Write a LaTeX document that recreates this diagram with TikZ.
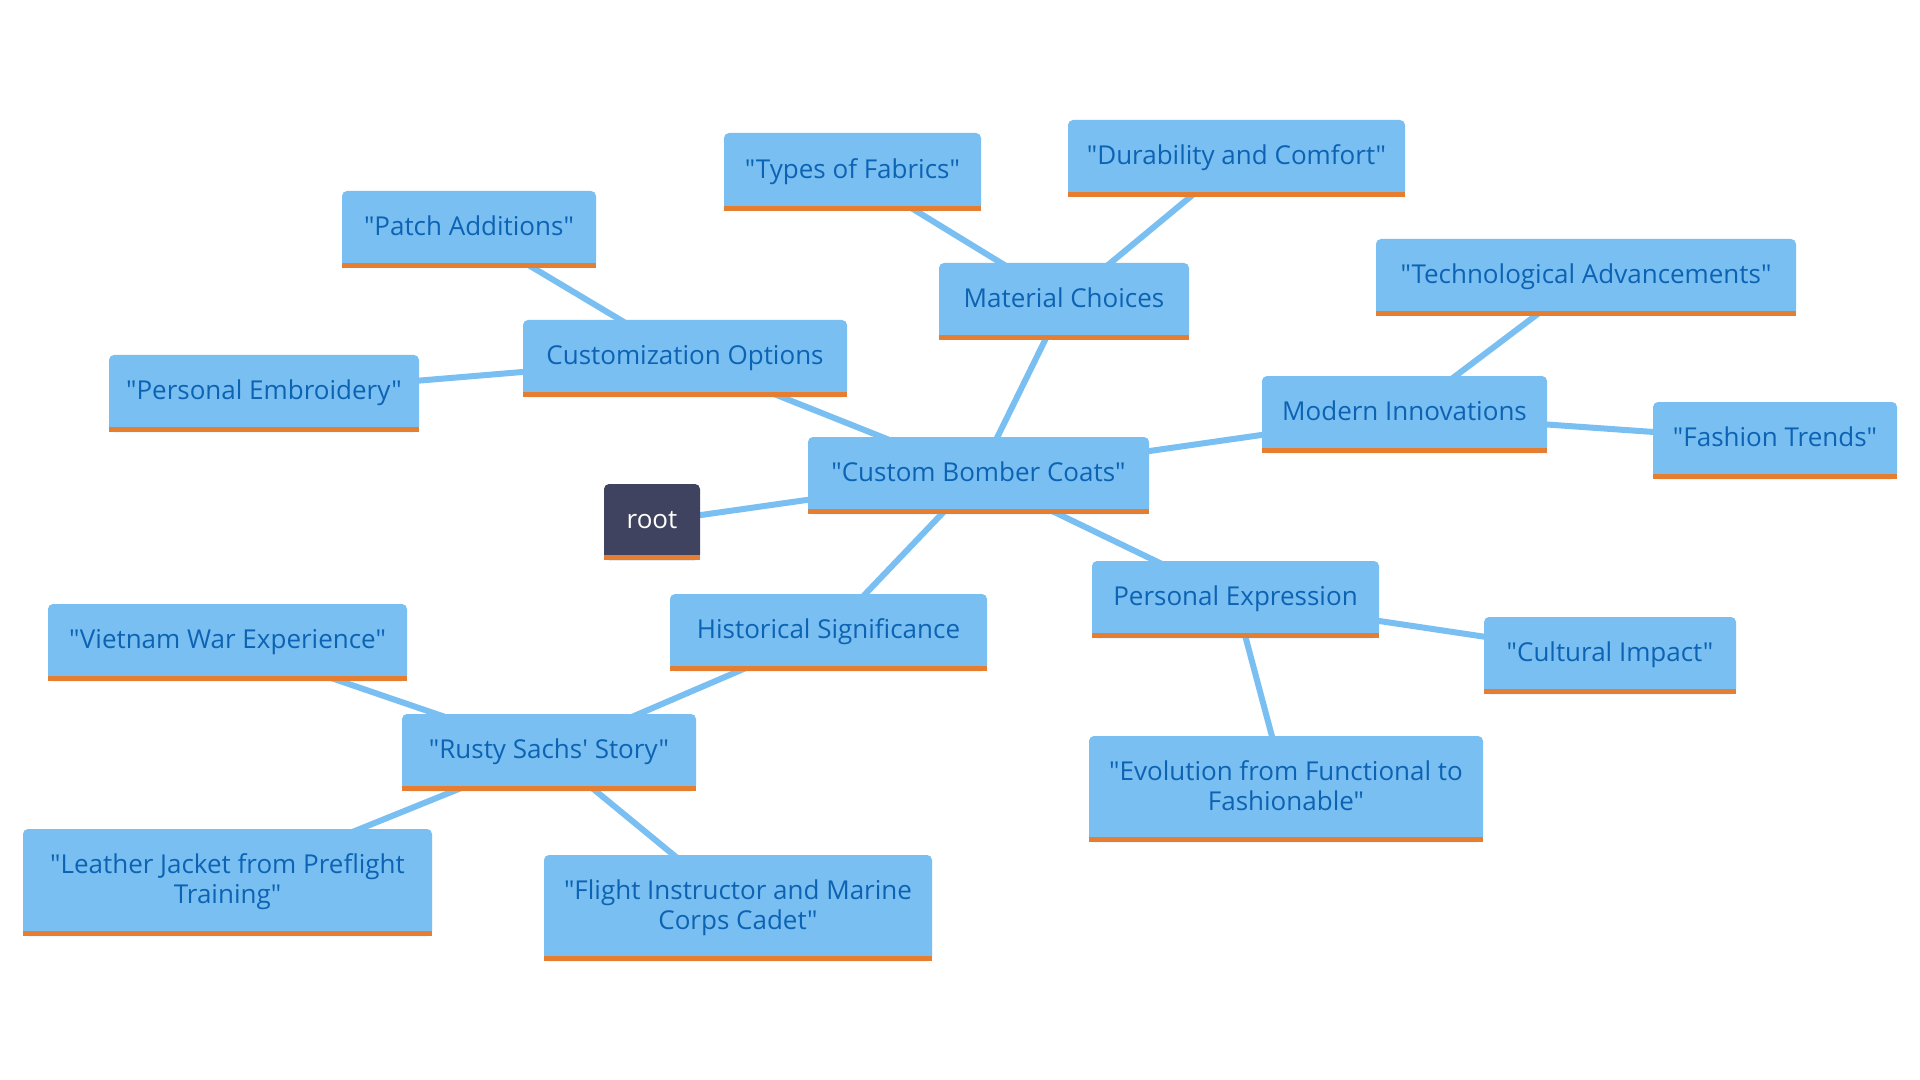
\documentclass[tikz,border=0pt]{standalone}
\usepackage{fontspec}
\setmainfont{Open Sans}[Ligatures=TeXOff]
\definecolor{boxblue}{HTML}{7ABFF1}
\definecolor{txtblue}{HTML}{0D63B3}
\definecolor{stripe}{HTML}{E57E31}
\definecolor{rootfill}{HTML}{3F4360}
\pgfdeclarelayer{bg}
\pgfsetlayers{bg,main}
\tikzset{
  box/.style={fill=boxblue, rounded corners=2.5pt, text=txtblue, align=center,
    inner sep=0pt, font=\fontsize{13pt}{15pt}\selectfont,
    text height=10pt, text depth=3.6pt},
  box2/.style={box, text height=25pt},
  rootbox/.style={box, fill=rootfill, text=white},
  link/.style={draw=boxblue, line width=3pt},
}
\newcommand{\bx}[7][box]{\node[#1, minimum width=#5*0.5pt, minimum height=#6*0.5pt] (#2) at (#3,#4) {#7};}
\begin{document}
\begin{tikzpicture}[x=0.5pt,y=-0.5pt]
\useasboundingbox (0,0) rectangle (1920,1080);
\bx[rootbox]{root}{652}{522}{96}{76}{root}
\bx{cbc}{978.5}{475.5}{341}{77}{"Custom Bomber Coats"}
\bx{mat}{1064}{301.5}{250}{77}{Material Choices}
\bx{fab}{852.5}{172}{257}{78}{"Types of Fabrics"}
\bx{dur}{1236.5}{158.5}{337}{77}{"Durability and Comfort"}
\bx{cust}{685}{358.5}{324}{77}{Customization Options}
\bx{patch}{469}{229.5}{254}{77}{"Patch Additions"}
\bx{emb}{264}{393.5}{310}{77}{"Personal Embroidery"}
\bx{mod}{1404.5}{414.5}{285}{77}{Modern Innovations}
\bx{tech}{1586}{277.5}{420}{77}{"Technological Advancements"}
\bx{fash}{1775}{440.5}{244}{77}{"Fashion Trends"}
\bx{pers}{1235.5}{599.5}{287}{77}{Personal Expression}
\bx{cult}{1610}{655.5}{252}{77}{"Cultural Impact"}
\bx[box2]{evo}{1286}{789}{394}{106}{"Evolution from Functional to\\Fashionable"}
\bx{hist}{828.5}{632.5}{317}{77}{Historical Significance}
\bx{rusty}{549}{752.5}{294}{77}{"Rusty Sachs' Story"}
\bx{viet}{227.5}{642.5}{359}{77}{"Vietnam War Experience"}
\bx[box2]{leather}{227.5}{882.5}{409}{107}{"Leather Jacket from Preflight\\Training"}
\bx[box2]{flight}{738}{908}{388}{106}{"Flight Instructor and Marine\\Corps Cadet"}
\foreach \n in {root,cbc,mat,fab,dur,cust,patch,emb,mod,tech,fash,pers,cult,evo,hist,rusty,viet,leather,flight}{
  \fill[stripe] (\n.south west) rectangle ([yshift=2.6pt]\n.south east);
}
\begin{pgfonlayer}{bg}
\fill[white] (0,0) rectangle (1920,1080);
\foreach \a/\b in {root/cbc,cbc/mat,mat/fab,mat/dur,cbc/cust,cust/patch,cust/emb,cbc/mod,mod/tech,mod/fash,cbc/pers,pers/cult,pers/evo,cbc/hist,hist/rusty,rusty/viet,rusty/leather,rusty/flight}{
  \draw[link] (\a.center) -- (\b.center);
}
\end{pgfonlayer}
\end{tikzpicture}
\end{document}
